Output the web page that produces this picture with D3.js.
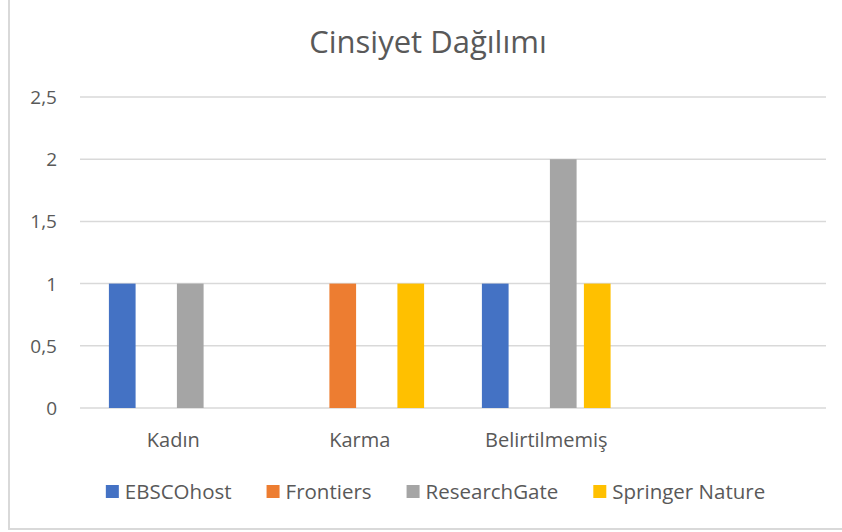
<!DOCTYPE html>
<html>
<head>
<meta charset="utf-8">
<script src="https://cdn.jsdelivr.net/npm/d3@7"></script>
<style>
  body { margin: 0; background: #fff; }
  text { font-family: "Open Sans", sans-serif; }
</style>
</head>
<body>
<div id="chart"></div>
<script>
// categories (last slot is empty, as in the original sheet)
var categories = ["Kadın", "Karma", "Belirtilmemiş", ""];
var seriesNames = ["EBSCOhost", "Frontiers", "ResearchGate", "Springer Nature"];
var ebsco = [1, 0, 1];
var frontiers = [0, 1, 0];
var researchGate = [1, 0, 2];
var springer = [0, 1, 1];
var yTicks = [0, 0.5, 1, 1.5, 2, 2.5];
var colors = ["#4472C4", "#ED7D31", "#A5A5A5", "#FFC000"];

var seriesValues = [ebsco, frontiers, researchGate, springer];

var w = 842, h = 532;
var plotLeft = 80, plotRight = 826, plotTop = 97, plotBottom = 408;

var svg = d3.select("#chart")
  .append("svg")
  .attr("width", w)
  .attr("height", h);

// outer chart border
svg.append("rect")
  .attr("x", 9).attr("y", -10)
  .attr("width", 850).attr("height", 539)
  .attr("fill", "#fff")
  .attr("stroke", "#d9d9d9")
  .attr("stroke-width", 2);

var x0 = d3.scaleBand().domain(categories).range([plotLeft, plotRight]).padding(0);
var x1 = d3.scaleBand().domain(seriesNames).range([0, x0.bandwidth()])
  .paddingInner(0.215).paddingOuter(0.85);
var y = d3.scaleLinear().domain([0, 2.5]).range([plotBottom, plotTop]);

// gridlines
svg.selectAll(".grid")
  .data(yTicks)
  .enter()
  .append("line")
  .attr("x1", plotLeft).attr("x2", plotRight)
  .attr("y1", function(d) { return y(d); })
  .attr("y2", function(d) { return y(d); })
  .attr("stroke", "#d9d9d9")
  .attr("stroke-width", 1.5);

// y tick labels
svg.selectAll(".ytick")
  .data(yTicks)
  .enter()
  .append("text")
  .text(function(d) { return String(d).replace(".", ","); })
  .attr("text-anchor", "end")
  .attr("x", 57)
  .attr("y", function(d) { return y(d) + 7; })
  .attr("font-size", "19px")
  .attr("fill", "#595959");

// bars
seriesValues.forEach(function(vals, s) {
  svg.selectAll(".bar" + s)
    .data(vals)
    .enter()
    .append("rect")
    .attr("x", function(d, i) { return x0(categories[i]) + x1(seriesNames[s]); })
    .attr("y", function(d) { return y(d); })
    .attr("width", x1.bandwidth())
    .attr("height", function(d) { return y(0) - y(d); })
    .attr("fill", colors[s]);
});

// category labels
svg.selectAll(".xlab")
  .data(categories)
  .enter()
  .append("text")
  .text(function(d) { return d; })
  .attr("text-anchor", "middle")
  .attr("x", function(d) { return x0(d) + x0.bandwidth() / 2; })
  .attr("y", 447)
  .attr("font-size", "20px")
  .attr("fill", "#595959");

// title
svg.append("text")
  .text("Cinsiyet Dağılımı")
  .attr("text-anchor", "middle")
  .attr("x", 428)
  .attr("y", 53)
  .attr("font-size", "31px")
  .attr("fill", "#595959");

// legend
var lg = svg.append("g");
var lx = 0;
seriesNames.forEach(function(name, i) {
  var item = lg.append("g").attr("transform", "translate(" + lx + ",0)");
  item.append("rect")
    .attr("x", 0).attr("y", -7)
    .attr("width", 13).attr("height", 13)
    .attr("fill", colors[i]);
  var t = item.append("text")
    .text(name)
    .attr("x", 19)
    .attr("y", 7)
    .attr("font-size", "20.5px")
    .attr("fill", "#595959");
  lx += 19 + t.node().getComputedTextLength() + 35;
});
var lw = lx - 35;
lg.attr("transform", "translate(" + (435.5 - lw / 2) + ",492)");
</script>
</body>
</html>
